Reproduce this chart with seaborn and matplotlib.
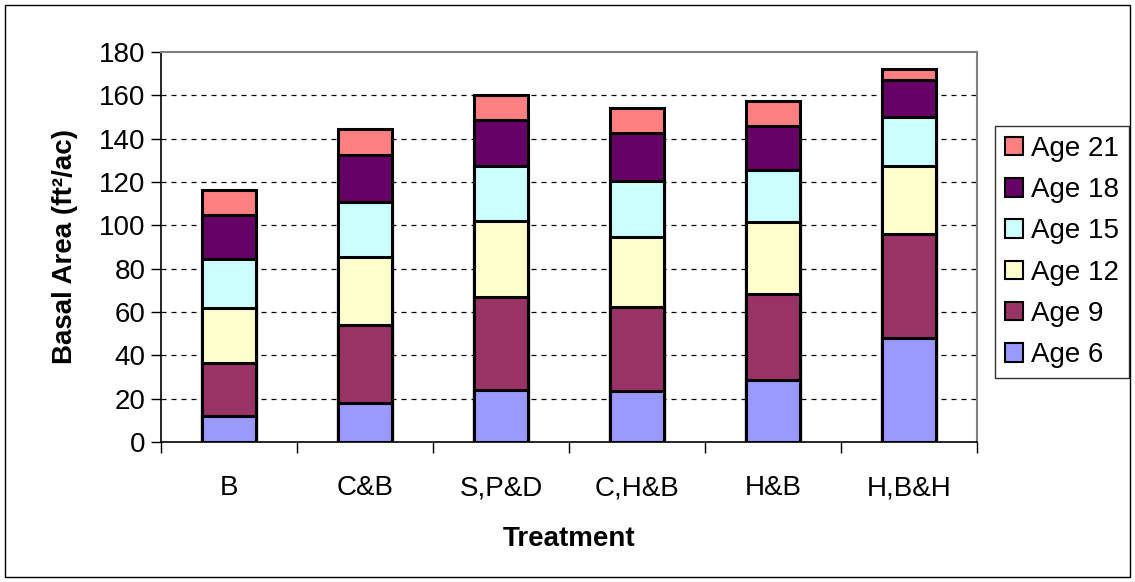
import numpy as np
import pandas as pd
import seaborn as sns
import matplotlib.pyplot as plt
from matplotlib.patches import Patch, Rectangle

treatments = ["B", "C&B", "S,P&D", "C,H&B", "H&B", "H,B&H"]
ages = ["Age 6", "Age 9", "Age 12", "Age 15", "Age 18", "Age 21"]
age6 = [12.0, 18.0, 24.2, 23.4, 28.5, 48.0]
age9 = [24.6, 36.2, 42.6, 38.9, 40.0, 48.2]
age12 = [25.3, 31.2, 35.1, 32.5, 32.9, 31.4]
age15 = [22.4, 25.5, 25.7, 25.5, 24.3, 22.6]
age18 = [20.5, 21.7, 20.9, 22.5, 20.1, 16.9]
age21 = [11.4, 11.7, 11.8, 11.4, 11.4, 5.2]
colors = ["#9999FF", "#993366", "#FFFFCC", "#CCFFFF", "#660066", "#FF8080"]

sns.set_style("white")
plt.rcParams["font.family"] = ["Liberation Sans", "DejaVu Sans"]
plt.rcParams["text.color"] = "black"
plt.rcParams["axes.labelcolor"] = "black"
plt.rcParams["xtick.color"] = "black"
plt.rcParams["ytick.color"] = "black"

df = pd.DataFrame({"Treatment": treatments, "Age 6": age6, "Age 9": age9,
                   "Age 12": age12, "Age 15": age15, "Age 18": age18,
                   "Age 21": age21})
cum = df[ages].cumsum(axis=1)

fig = plt.figure(figsize=(11.35, 5.82), dpi=100)
ax = fig.add_axes([161 / 1135, 1 - 442 / 582, 816 / 1135, 390 / 582])

# stacked bars: draw cumulative totals from the top layer down
for age, col in reversed(list(zip(ages, colors))):
    sns.barplot(x=df["Treatment"], y=cum[age], color=col, saturation=1,
                width=0.4, edgecolor="black", linewidth=2.2, ax=ax, zorder=3)

ax.set_ylim(0, 180)
ax.set_xlim(-0.5, 5.5)
ax.set_yticks(np.arange(0, 181, 20))
for yv in range(20, 180, 20):
    ax.axhline(yv, color="black", lw=0.9, ls=(0, (4, 4)), zorder=1)

ax.set_xticks(np.arange(-0.5, 6, 1), minor=True)
ax.tick_params(axis="x", which="major", length=0, pad=24, labelsize=20)
ax.tick_params(axis="x", which="minor", length=8, width=1, color="black", direction="out")
ax.tick_params(axis="y", length=7, width=1, color="black", direction="out", labelsize=20, pad=4)
ax.xaxis.set_ticks_position("bottom")
ax.yaxis.set_ticks_position("left")

for side in ["left", "bottom"]:
    ax.spines[side].set_color("black")
    ax.spines[side].set_linewidth(1.2)
for side in ["top", "right"]:
    ax.spines[side].set_color("#808080")
    ax.spines[side].set_linewidth(1.5)

ax.set_xlabel("Treatment", fontsize=20, fontweight="bold")
ax.set_ylabel("Basal Area (ft²/ac)", fontsize=20, fontweight="bold")
ax.xaxis.set_label_coords(0.5, -0.215)
ax.yaxis.set_label_coords(-0.102, 0.5)

handles = [Patch(facecolor=c, edgecolor="black", lw=1.5, label=a)
           for a, c in zip(ages, colors)][::-1]
leg = fig.legend(handles=handles, loc="upper left",
                 bbox_to_anchor=(995 / 1135, 1 - 126 / 582), fontsize=20,
                 frameon=True, fancybox=False, edgecolor="black",
                 handlelength=0.65, handleheight=0.65, handletextpad=0.3,
                 labelspacing=0.55, borderpad=0.35, borderaxespad=0)
leg.get_frame().set_linewidth(1)

fig.patches.append(Rectangle((5 / 1135, 5 / 582), 1125 / 1135, 572 / 582,
                             transform=fig.transFigure, fill=False,
                             edgecolor="black", lw=1))

fig.savefig("out.png", dpi=100)
